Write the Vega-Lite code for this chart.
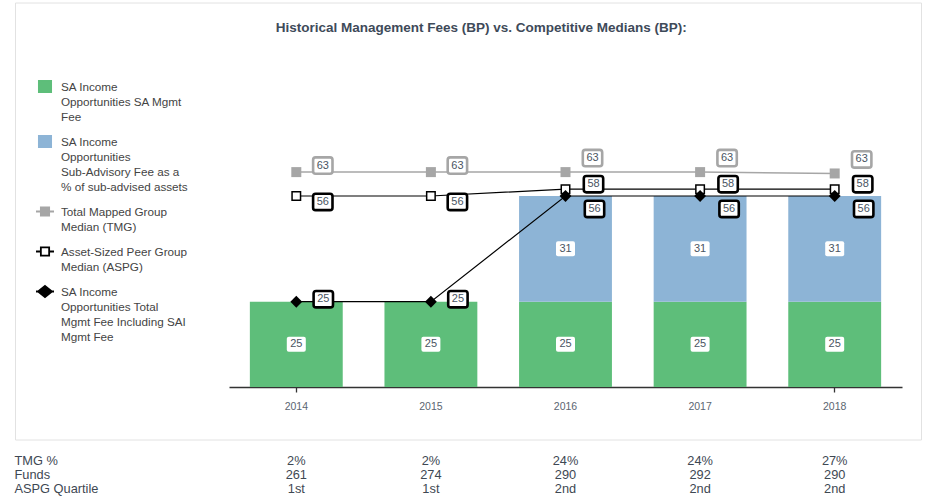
{
  "$schema": "https://vega.github.io/schema/vega-lite/v6.json",
  "padding": {"left": 14, "top": 1.5, "right": 0, "bottom": 0},
  "config": {"font": "Liberation Sans", "view": {"stroke": null}},
  "title": {
    "text": "Historical Management Fees (BP) vs. Competitive Medians (BP):",
    "fontSize": 13.5,
    "fontWeight": "bold",
    "color": "#3e4a59",
    "anchor": "middle",
    "offset": -32.5,
    "dx": 13.5
  },
  "datasets": {
    "fees": [
      {"year": "2014", "series": "SA Income Opportunities SA Mgmt Fee", "value": 25},
      {"year": "2015", "series": "SA Income Opportunities SA Mgmt Fee", "value": 25},
      {"year": "2016", "series": "SA Income Opportunities SA Mgmt Fee", "value": 25},
      {"year": "2016", "series": "SA Income Opportunities Sub-Advisory Fee as a % of sub-advised assets", "value": 31},
      {"year": "2017", "series": "SA Income Opportunities SA Mgmt Fee", "value": 25},
      {"year": "2017", "series": "SA Income Opportunities Sub-Advisory Fee as a % of sub-advised assets", "value": 31},
      {"year": "2018", "series": "SA Income Opportunities SA Mgmt Fee", "value": 25},
      {"year": "2018", "series": "SA Income Opportunities Sub-Advisory Fee as a % of sub-advised assets", "value": 31}
    ],
    "medians": [
      {"year": "2014", "series": "Total Mapped Group Median (TMG)", "value": 63},
      {"year": "2015", "series": "Total Mapped Group Median (TMG)", "value": 63},
      {"year": "2016", "series": "Total Mapped Group Median (TMG)", "value": 63},
      {"year": "2017", "series": "Total Mapped Group Median (TMG)", "value": 63},
      {"year": "2018", "series": "Total Mapped Group Median (TMG)", "value": 62.6},
      {"year": "2014", "series": "Asset-Sized Peer Group Median (ASPG)", "value": 56},
      {"year": "2015", "series": "Asset-Sized Peer Group Median (ASPG)", "value": 56},
      {"year": "2016", "series": "Asset-Sized Peer Group Median (ASPG)", "value": 58},
      {"year": "2017", "series": "Asset-Sized Peer Group Median (ASPG)", "value": 58},
      {"year": "2018", "series": "Asset-Sized Peer Group Median (ASPG)", "value": 58},
      {"year": "2014", "series": "SA Income Opportunities Total Mgmt Fee Including SAI Mgmt Fee", "value": 25},
      {"year": "2015", "series": "SA Income Opportunities Total Mgmt Fee Including SAI Mgmt Fee", "value": 25},
      {"year": "2016", "series": "SA Income Opportunities Total Mgmt Fee Including SAI Mgmt Fee", "value": 56},
      {"year": "2017", "series": "SA Income Opportunities Total Mgmt Fee Including SAI Mgmt Fee", "value": 56},
      {"year": "2018", "series": "SA Income Opportunities Total Mgmt Fee Including SAI Mgmt Fee", "value": 56}
    ],
    "series": [
      {"series": "SA Income Opportunities SA Mgmt Fee"},
      {"series": "SA Income Opportunities Sub-Advisory Fee as a % of sub-advised assets"},
      {"series": "Total Mapped Group Median (TMG)"},
      {"series": "Asset-Sized Peer Group Median (ASPG)"},
      {"series": "SA Income Opportunities Total Mgmt Fee Including SAI Mgmt Fee"}
    ],
    "table": [
      {"year": "2014", "row": "TMG %", "value": "2%"},
      {"year": "2015", "row": "TMG %", "value": "2%"},
      {"year": "2016", "row": "TMG %", "value": "24%"},
      {"year": "2017", "row": "TMG %", "value": "24%"},
      {"year": "2018", "row": "TMG %", "value": "27%"},
      {"year": "2014", "row": "Funds", "value": "261"},
      {"year": "2015", "row": "Funds", "value": "274"},
      {"year": "2016", "row": "Funds", "value": "290"},
      {"year": "2017", "row": "Funds", "value": "292"},
      {"year": "2018", "row": "Funds", "value": "290"},
      {"year": "2014", "row": "ASPG Quartile", "value": "1st"},
      {"year": "2015", "row": "ASPG Quartile", "value": "1st"},
      {"year": "2016", "row": "ASPG Quartile", "value": "2nd"},
      {"year": "2017", "row": "ASPG Quartile", "value": "2nd"},
      {"year": "2018", "row": "ASPG Quartile", "value": "2nd"}
    ]
  },
  "spacing": 13,
  "vconcat": [
    {
      "width": 906,
      "height": 437,
      "view": {"stroke": "#e2e2e2", "strokeWidth": 1},
      "layer": [
        {
          "data": {"name": "fees"},
          "transform": [
            {"stack": "value", "groupby": ["year"], "sort": [{"field": "series", "order": "ascending"}], "as": ["v0", "v1"]}
          ],
          "layer": [
            {
              "mark": {"type": "bar"},
              "encoding": {
                "x": {
                  "field": "year", "type": "ordinal",
                  "scale": {"range": [214, 887], "paddingInner": 0.31, "paddingOuter": 0.155},
                  "axis": {
                    "title": null, "labelAngle": 0, "labelFontSize": 10.5, "labelColor": "#5b6571",
                    "labelPadding": 9, "domainColor": "#333333", "domainWidth": 1.3, "offset": -52.5,
                    "tickColor": "#333333", "tickWidth": 1.3, "tickSize": 5,
                    "tickOpacity": {"condition": {"test": "datum.index === 0 || datum.index === 1", "value": 1}, "value": 0},
                    "encode": {"ticks": {"update": {"x": {"signal": "datum.index === 0 ? 214 : 887"}}}}
                  }
                },
                "y": {"field": "v0", "type": "quantitative", "scale": {"domain": [0, 90], "range": [384.5, 77.5], "nice": false}, "axis": null},
                "y2": {"field": "v1"},
                "color": {
                  "field": "series", "type": "nominal",
                  "scale": {"domain": ["SA Income Opportunities SA Mgmt Fee", "SA Income Opportunities Sub-Advisory Fee as a % of sub-advised assets"], "range": ["#5ebe7a", "#8db4d6"]},
                  "legend": null
                }
              }
            },
            {
              "transform": [{"calculate": "(datum.v0 + datum.v1) / 2", "as": "mid"}],
              "layer": [
                {
                  "mark": {"type": "point", "shape": "M-0.79,-0.79H0.79Q1,-0.79 1,-0.58V0.58Q1,0.79 0.79,0.79H-0.79Q-1,0.79 -1,0.58V-0.58Q-1,-0.79 -0.79,-0.79Z", "size": 361, "filled": true, "fill": "#ffffff", "strokeWidth": 0, "opacity": 1},
                  "encoding": {
                    "x": {"field": "year", "type": "ordinal"},
                    "y": {"field": "mid", "type": "quantitative", "scale": {"domain": [0, 90], "range": [384.5, 77.5], "nice": false}, "axis": null}
                  }
                },
                {
                  "mark": {"type": "text", "fontSize": 11, "color": "#4a5562"},
                  "encoding": {
                    "x": {"field": "year", "type": "ordinal"},
                    "y": {"field": "mid", "type": "quantitative", "scale": {"domain": [0, 90], "range": [384.5, 77.5], "nice": false}, "axis": null},
                    "text": {"field": "value", "type": "quantitative", "format": ".0f"}
                  }
                }
              ]
            }
          ]
        },
        {
          "data": {"name": "medians"},
          "transform": [{"filter": {"field": "series", "equal": "Total Mapped Group Median (TMG)"}}],
          "layer": [
            {
              "mark": {"type": "line", "color": "#a6a6a6", "strokeWidth": 1.5},
              "encoding": {
                "x": {"field": "year", "type": "ordinal"},
                "y": {"field": "value", "type": "quantitative", "scale": {"domain": [0, 90], "range": [384.5, 77.5], "nice": false}, "axis": null}
              }
            },
            {
              "mark": {"type": "square", "size": 100, "color": "#a6a6a6", "opacity": 1},
              "encoding": {
                "x": {"field": "year", "type": "ordinal"},
                "y": {"field": "value", "type": "quantitative", "scale": {"domain": [0, 90], "range": [384.5, 77.5], "nice": false}, "axis": null}
              }
            },
            {
              "transform": [{"filter": {"field": "year", "oneOf": ["2014", "2015"]}}],
              "layer": [
                {
                  "mark": {"type": "point", "shape": "M-0.74,-0.845H0.74Q1,-0.845 1,-0.585V0.585Q1,0.845 0.74,0.845H-0.74Q-1,0.845 -1,0.585V-0.585Q-1,-0.845 -0.74,-0.845Z", "size": 376, "filled": true, "fill": "#ffffff", "stroke": "#a6a6a6", "strokeWidth": 2.6, "opacity": 1, "xOffset": 26.5, "yOffset": -6.5},
                  "encoding": {
                    "x": {"field": "year", "type": "ordinal"},
                    "y": {"field": "value", "type": "quantitative", "scale": {"domain": [0, 90], "range": [384.5, 77.5], "nice": false}, "axis": null}
                  }
                },
                {
                  "mark": {"type": "text", "fontSize": 11, "color": "#4a5562", "dx": 26.5, "dy": -6.5},
                  "encoding": {
                    "x": {"field": "year", "type": "ordinal"},
                    "y": {"field": "value", "type": "quantitative", "scale": {"domain": [0, 90], "range": [384.5, 77.5], "nice": false}, "axis": null},
                    "text": {"field": "value", "type": "quantitative", "format": ".0f"}
                  }
                }
              ]
            },
            {
              "transform": [{"filter": {"field": "year", "oneOf": ["2016", "2017", "2018"]}}],
              "layer": [
                {
                  "mark": {"type": "point", "shape": "M-0.74,-0.845H0.74Q1,-0.845 1,-0.585V0.585Q1,0.845 0.74,0.845H-0.74Q-1,0.845 -1,0.585V-0.585Q-1,-0.845 -0.74,-0.845Z", "size": 376, "filled": true, "fill": "#ffffff", "stroke": "#a6a6a6", "strokeWidth": 2.6, "opacity": 1, "xOffset": 27, "yOffset": -14},
                  "encoding": {
                    "x": {"field": "year", "type": "ordinal"},
                    "y": {"field": "value", "type": "quantitative", "scale": {"domain": [0, 90], "range": [384.5, 77.5], "nice": false}, "axis": null}
                  }
                },
                {
                  "mark": {"type": "text", "fontSize": 11, "color": "#4a5562", "dx": 27, "dy": -14},
                  "encoding": {
                    "x": {"field": "year", "type": "ordinal"},
                    "y": {"field": "value", "type": "quantitative", "scale": {"domain": [0, 90], "range": [384.5, 77.5], "nice": false}, "axis": null},
                    "text": {"field": "value", "type": "quantitative", "format": ".0f"}
                  }
                }
              ]
            }
          ]
        },
        {
          "data": {"name": "medians"},
          "transform": [{"filter": {"field": "series", "equal": "Asset-Sized Peer Group Median (ASPG)"}}],
          "layer": [
            {
              "mark": {"type": "line", "color": "#000000", "strokeWidth": 1.2},
              "encoding": {
                "x": {"field": "year", "type": "ordinal"},
                "y": {"field": "value", "type": "quantitative", "scale": {"domain": [0, 90], "range": [384.5, 77.5], "nice": false}, "axis": null}
              }
            },
            {
              "mark": {"type": "square", "size": 72, "filled": true, "fill": "#ffffff", "stroke": "#000000", "strokeWidth": 1.5, "opacity": 1},
              "encoding": {
                "x": {"field": "year", "type": "ordinal"},
                "y": {"field": "value", "type": "quantitative", "scale": {"domain": [0, 90], "range": [384.5, 77.5], "nice": false}, "axis": null}
              }
            },
            {
              "transform": [{"filter": {"field": "year", "oneOf": ["2014", "2015"]}}],
              "layer": [
                {
                  "mark": {"type": "point", "shape": "M-0.74,-0.845H0.74Q1,-0.845 1,-0.585V0.585Q1,0.845 0.74,0.845H-0.74Q-1,0.845 -1,0.585V-0.585Q-1,-0.845 -0.74,-0.845Z", "size": 376, "filled": true, "fill": "#ffffff", "stroke": "#000000", "strokeWidth": 2.6, "opacity": 1, "xOffset": 26.5, "yOffset": 6},
                  "encoding": {
                    "x": {"field": "year", "type": "ordinal"},
                    "y": {"field": "value", "type": "quantitative", "scale": {"domain": [0, 90], "range": [384.5, 77.5], "nice": false}, "axis": null}
                  }
                },
                {
                  "mark": {"type": "text", "fontSize": 11, "color": "#4a5562", "dx": 26.5, "dy": 6},
                  "encoding": {
                    "x": {"field": "year", "type": "ordinal"},
                    "y": {"field": "value", "type": "quantitative", "scale": {"domain": [0, 90], "range": [384.5, 77.5], "nice": false}, "axis": null},
                    "text": {"field": "value", "type": "quantitative", "format": ".0f"}
                  }
                }
              ]
            },
            {
              "transform": [{"filter": {"field": "year", "oneOf": ["2016", "2017", "2018"]}}],
              "layer": [
                {
                  "mark": {"type": "point", "shape": "M-0.74,-0.845H0.74Q1,-0.845 1,-0.585V0.585Q1,0.845 0.74,0.845H-0.74Q-1,0.845 -1,0.585V-0.585Q-1,-0.845 -0.74,-0.845Z", "size": 376, "filled": true, "fill": "#ffffff", "stroke": "#000000", "strokeWidth": 2.6, "opacity": 1, "xOffset": 28, "yOffset": -5},
                  "encoding": {
                    "x": {"field": "year", "type": "ordinal"},
                    "y": {"field": "value", "type": "quantitative", "scale": {"domain": [0, 90], "range": [384.5, 77.5], "nice": false}, "axis": null}
                  }
                },
                {
                  "mark": {"type": "text", "fontSize": 11, "color": "#4a5562", "dx": 28, "dy": -5},
                  "encoding": {
                    "x": {"field": "year", "type": "ordinal"},
                    "y": {"field": "value", "type": "quantitative", "scale": {"domain": [0, 90], "range": [384.5, 77.5], "nice": false}, "axis": null},
                    "text": {"field": "value", "type": "quantitative", "format": ".0f"}
                  }
                }
              ]
            }
          ]
        },
        {
          "data": {"name": "medians"},
          "transform": [{"filter": {"field": "series", "equal": "SA Income Opportunities Total Mgmt Fee Including SAI Mgmt Fee"}}],
          "layer": [
            {
              "mark": {"type": "line", "color": "#000000", "strokeWidth": 1.2},
              "encoding": {
                "x": {"field": "year", "type": "ordinal"},
                "y": {"field": "value", "type": "quantitative", "scale": {"domain": [0, 90], "range": [384.5, 77.5], "nice": false}, "axis": null}
              }
            },
            {
              "mark": {"type": "point", "shape": "diamond", "size": 140, "filled": true, "color": "#000000", "opacity": 1},
              "encoding": {
                "x": {"field": "year", "type": "ordinal"},
                "y": {"field": "value", "type": "quantitative", "scale": {"domain": [0, 90], "range": [384.5, 77.5], "nice": false}, "axis": null}
              }
            },
            {
              "transform": [{"filter": {"field": "year", "oneOf": ["2014", "2015"]}}],
              "layer": [
                {
                  "mark": {"type": "point", "shape": "M-0.74,-0.845H0.74Q1,-0.845 1,-0.585V0.585Q1,0.845 0.74,0.845H-0.74Q-1,0.845 -1,0.585V-0.585Q-1,-0.845 -0.74,-0.845Z", "size": 376, "filled": true, "fill": "#ffffff", "stroke": "#000000", "strokeWidth": 2.6, "opacity": 1, "xOffset": 27, "yOffset": -2.5},
                  "encoding": {
                    "x": {"field": "year", "type": "ordinal"},
                    "y": {"field": "value", "type": "quantitative", "scale": {"domain": [0, 90], "range": [384.5, 77.5], "nice": false}, "axis": null}
                  }
                },
                {
                  "mark": {"type": "text", "fontSize": 11, "color": "#4a5562", "dx": 27, "dy": -2.5},
                  "encoding": {
                    "x": {"field": "year", "type": "ordinal"},
                    "y": {"field": "value", "type": "quantitative", "scale": {"domain": [0, 90], "range": [384.5, 77.5], "nice": false}, "axis": null},
                    "text": {"field": "value", "type": "quantitative", "format": ".0f"}
                  }
                }
              ]
            },
            {
              "transform": [{"filter": {"field": "year", "oneOf": ["2016", "2017", "2018"]}}],
              "layer": [
                {
                  "mark": {"type": "point", "shape": "M-0.74,-0.845H0.74Q1,-0.845 1,-0.585V0.585Q1,0.845 0.74,0.845H-0.74Q-1,0.845 -1,0.585V-0.585Q-1,-0.845 -0.74,-0.845Z", "size": 376, "filled": true, "fill": "#ffffff", "stroke": "#000000", "strokeWidth": 2.6, "opacity": 1, "xOffset": 29, "yOffset": 13},
                  "encoding": {
                    "x": {"field": "year", "type": "ordinal"},
                    "y": {"field": "value", "type": "quantitative", "scale": {"domain": [0, 90], "range": [384.5, 77.5], "nice": false}, "axis": null}
                  }
                },
                {
                  "mark": {"type": "text", "fontSize": 11, "color": "#4a5562", "dx": 29, "dy": 13},
                  "encoding": {
                    "x": {"field": "year", "type": "ordinal"},
                    "y": {"field": "value", "type": "quantitative", "scale": {"domain": [0, 90], "range": [384.5, 77.5], "nice": false}, "axis": null},
                    "text": {"field": "value", "type": "quantitative", "format": ".0f"}
                  }
                }
              ]
            }
          ]
        },
        {
          "data": {"name": "series"},
          "mark": {"type": "point", "filled": true, "opacity": 0},
          "encoding": {
            "fill": {
              "field": "series", "type": "nominal",
              "scale": {
                "domain": ["SA Income Opportunities SA Mgmt Fee", "SA Income Opportunities Sub-Advisory Fee as a % of sub-advised assets", "Total Mapped Group Median (TMG)", "Asset-Sized Peer Group Median (ASPG)", "SA Income Opportunities Total Mgmt Fee Including SAI Mgmt Fee"],
                "range": ["#5ebe7a", "#8db4d6", "#a6a6a6", "#ffffff", "#000000"]
              },
              "legend": {
                "title": null, "orient": "none", "legendX": 20, "legendY": 74, "padding": 0,
                "labelFontSize": 11.7, "labelColor": "#444444", "labelBaseline": "alphabetic", "labelLimit": 300,
                "labelOffset": 6, "rowPadding": 8, "symbolSize": 324, "symbolStrokeWidth": 1.8, "symbolOpacity": 1,
                "labelExpr": "datum.label == 'SA Income Opportunities SA Mgmt Fee' ? ['SA Income', 'Opportunities SA Mgmt', 'Fee'] : datum.label == 'SA Income Opportunities Sub-Advisory Fee as a % of sub-advised assets' ? ['SA Income', 'Opportunities', 'Sub-Advisory Fee as a', '% of sub-advised assets'] : datum.label == 'Total Mapped Group Median (TMG)' ? ['Total Mapped Group', 'Median (TMG)'] : datum.label == 'Asset-Sized Peer Group Median (ASPG)' ? ['Asset-Sized Peer Group', 'Median (ASPG)'] : ['SA Income', 'Opportunities Total', 'Mgmt Fee Including SAI', 'Mgmt Fee']",
                "encode": {
                  "labels": {"update": {"lineHeight": {"value": 15}, "dy": {"value": 4}}},
                  "symbols": {"update": {"opacity": {"value": 1}}}
                }
              }
            },
            "stroke": {
              "field": "series", "type": "nominal",
              "scale": {
                "domain": ["SA Income Opportunities SA Mgmt Fee", "SA Income Opportunities Sub-Advisory Fee as a % of sub-advised assets", "Total Mapped Group Median (TMG)", "Asset-Sized Peer Group Median (ASPG)", "SA Income Opportunities Total Mgmt Fee Including SAI Mgmt Fee"],
                "range": ["#5ebe7a", "#8db4d6", "#a6a6a6", "#000000", "#000000"]
              },
              "legend": {
                "title": null, "orient": "none", "legendX": 20, "legendY": 74, "padding": 0,
                "labelFontSize": 11.7, "labelColor": "#444444", "labelBaseline": "alphabetic", "labelLimit": 300,
                "labelOffset": 6, "rowPadding": 8, "symbolSize": 324, "symbolStrokeWidth": 1.8, "symbolOpacity": 1
              }
            },
            "shape": {
              "field": "series", "type": "nominal",
              "scale": {
                "domain": ["SA Income Opportunities SA Mgmt Fee", "SA Income Opportunities Sub-Advisory Fee as a % of sub-advised assets", "Total Mapped Group Median (TMG)", "Asset-Sized Peer Group Median (ASPG)", "SA Income Opportunities Total Mgmt Fee Including SAI Mgmt Fee"],
                "range": ["M-0.68,-0.62H0.68V0.62H-0.68Z", "M-0.68,-0.62H0.68V0.62H-0.68Z", "M-1,0H1M-0.46,-0.46H0.46V0.46H-0.46Z", "M-1,0H-0.46M0.46,0H1M-0.46,-0.46H0.46V0.46H-0.46Z", "M-1,0H1M0,-0.62L0.77,0L0,0.62L-0.77,0Z"]
              },
              "legend": {
                "title": null, "orient": "none", "legendX": 20, "legendY": 74, "padding": 0,
                "labelFontSize": 11.7, "labelColor": "#444444", "labelBaseline": "alphabetic", "labelLimit": 300,
                "labelOffset": 6, "rowPadding": 8, "symbolSize": 324, "symbolStrokeWidth": 1.8, "symbolOpacity": 1
              }
            }
          }
        }
      ]
    },
    {
      "width": 906,
      "height": 42,
      "data": {"name": "table"},
      "mark": {"type": "text", "fontSize": 12.8, "color": "#3e4853"},
      "encoding": {
        "x": {"field": "year", "type": "ordinal", "scale": {"range": [214, 887]}, "axis": null},
        "y": {
          "field": "row", "type": "ordinal", "sort": ["TMG %", "Funds", "ASPG Quartile"],
          "axis": {"title": null, "domain": false, "ticks": false, "labelAlign": "left", "labelPadding": 1, "labelFontSize": 12.8, "labelColor": "#3e4853"}
        },
        "text": {"field": "value", "type": "nominal"}
      }
    }
  ]
}
